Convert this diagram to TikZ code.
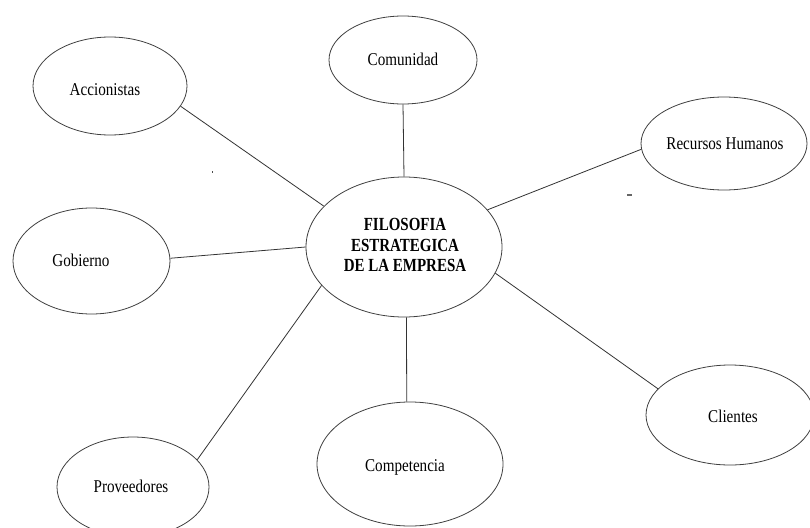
\documentclass[tikz,border=0pt]{standalone}
\usepackage{fontspec}
\setmainfont[FakeStretch=0.84]{Liberation Serif}
\newfontfamily\titlefont[FakeStretch=0.81]{Liberation Serif}
\usetikzlibrary{shapes.geometric}

\tikzset{
  bubble/.style={ellipse, draw=black!75, line width=0.8pt, inner sep=0pt},
  lbl/.style={inner sep=0pt, font=\fontsize{18}{21}\selectfont},
  title/.style={inner sep=0pt, align=center, font=\titlefont\fontsize{18.5}{20.5}\selectfont\bfseries},
  link/.style={draw=black!80, line width=0.8pt},
}

\begin{document}
\begin{tikzpicture}[x=1pt, y=-1pt]
  \useasboundingbox[fill=white] (0,0) rectangle (810,527);

  % central idea
  \node[bubble, minimum width=196pt, minimum height=140pt] (main) at (404,247) {};
  \node[title] (main-label) at (405,245) {FILOSOFIA\\ESTRATEGICA\\DE LA EMPRESA};

  % stakeholders around it
  \node[bubble, minimum width=148pt, minimum height=88pt]  (com)  at (403,60)    {};
  \node[bubble, minimum width=154pt, minimum height=98pt]  (acc)  at (110,86)    {};
  \node[bubble, minimum width=166pt, minimum height=93pt]  (rh)   at (724,143.5) {};
  \node[bubble, minimum width=157pt, minimum height=106pt] (gob)  at (91.5,261)  {};
  \node[bubble, minimum width=168pt, minimum height=100pt] (cli)  at (730,415)   {};
  \node[bubble, minimum width=186pt, minimum height=124pt] (comp) at (410,464)   {};
  \node[bubble, minimum width=152pt, minimum height=100pt] (prov) at (133,487)   {};

  \node[lbl] (com-label)  at (403,59)  {Comunidad};
  \node[lbl] (acc-label)  at (105,90)  {Accionistas};
  \node[lbl] (rh-label)   at (725,144) {Recursos Humanos};
  \node[lbl] (gob-label)  at (81,260)  {Gobierno};
  \node[lbl] (cli-label)  at (733,416) {Clientes};
  \node[lbl] (comp-label) at (405,467) {Competencia};
  \node[lbl] (prov-label) at (131,486) {Proveedores};

  % connectors
  \draw[link] (acc.-16.2)  -- (main.153.4);
  \draw[link] (com.south)  -- (main.north);
  \draw[link] (rh.-176.9)  -- (main.24.6);
  \draw[link] (gob.2.2)    -- (main.west);
  \draw[link] (main.-16.5) -- (cli.160.3);
  \draw[link] (main.-88.4) -- (comp.93.7);
  \draw[link] (prov.23.3)  -- (main.-155.1);

  % stray specks
  \fill[black!70] (211.5,171.3) rectangle (213,172.8);
  \fill[black!60] (627,194.4) rectangle (631.5,195.6);
\end{tikzpicture}
\end{document}
